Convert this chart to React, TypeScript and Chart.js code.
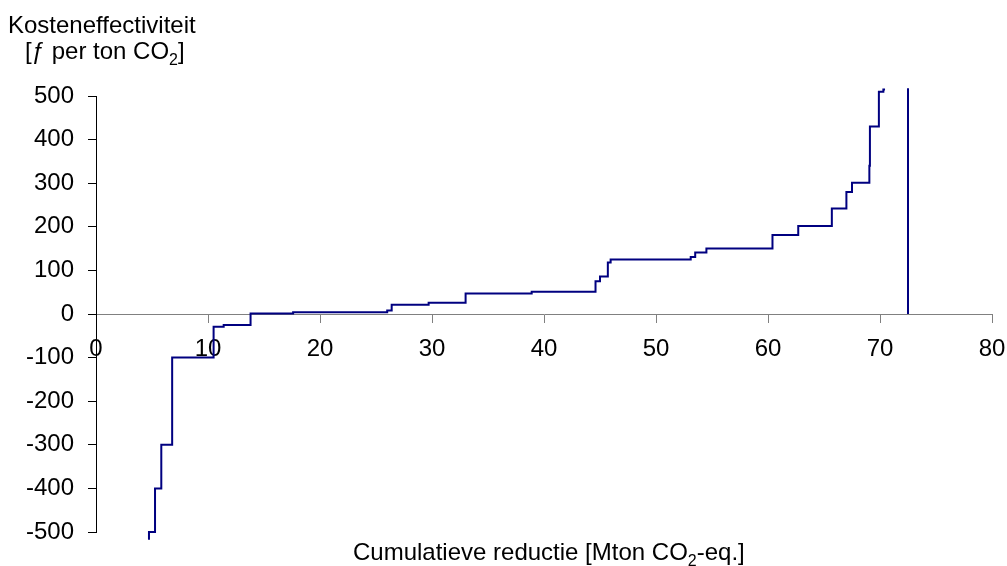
import React, { useEffect, useRef } from 'react';
import { Chart, registerables } from 'chart.js';

Chart.register(...registerables);

const FAMILY = '"Liberation Sans", Arial, Helvetica, sans-serif';

// Cost curve: each point = start of a measure (cumulative reduction, Mton CO2-eq.) and its cost (f per ton CO2)
const stepX = [4.73, 4.73, 5.27, 5.83, 6.8, 10.5, 11.4, 13.8, 17.6, 26.0, 26.4, 29.7, 33.0, 38.9, 44.6, 45.0, 45.7, 45.95, 53.1, 53.5, 54.5, 60.4, 62.7, 65.7, 67.0, 67.5, 69.05, 69.1, 69.9, 70.3, 70.45];
const stepCost = [-518, -500, -400, -300, -100, -29, -25, 1, 4, 8, 21, 26, 47, 51, 75, 86, 118, 125, 131, 141, 150, 181, 202, 242, 280, 301, 340, 430, 510, 515, 515];

// Vertical target line
const limitX = [72.5, 72.5];
const limitY = [0, 518];

// Axes
const xMin = 0;
const xMax = 80;
const xStep = 10;
const yMin = -500;
const yMax = 500;
const yStep = 100;

// Titles (text parts; true = subscript)
const yTitleLine1: [string, boolean][] = [['Kosteneffectiviteit', false]];
const yTitleLine2: [string, boolean][] = [['[ƒ per ton CO', false], ['2', true], [']', false]];
const xTitle: [string, boolean][] = [['Cumulatieve reductie [Mton CO', false], ['2', true], ['-eq.]', false]];

function drawParts(ctx: CanvasRenderingContext2D, parts: [string, boolean][], x: number, y: number, size: number) {
  let cx = x;
  for (const [t, sub] of parts) {
    const s = sub ? Math.round(size * 0.65) : size;
    ctx.font = `${s}px ${FAMILY}`;
    ctx.fillText(t, cx, sub ? y + size * 0.25 : y);
    cx += ctx.measureText(t).width;
  }
}

const titlePlugin = {
  id: 'titles',
  afterDraw(chart: any) {
    const ctx: CanvasRenderingContext2D = chart.ctx;
    ctx.save();
    ctx.fillStyle = '#000';
    ctx.textAlign = 'left';
    ctx.textBaseline = 'alphabetic';
    drawParts(ctx, yTitleLine1, 8, 33, 24);
    drawParts(ctx, yTitleLine2, 25, 59, 24);
    drawParts(ctx, xTitle, 353, 560, 24);
    ctx.restore();
  },
};

export default function App() {
  const ref = useRef<HTMLCanvasElement | null>(null);

  useEffect(() => {
    document.body.style.margin = '0';
    const canvas = ref.current;
    if (!canvas) return;
    const chart = new Chart(canvas, {
      type: 'line',
      data: {
        datasets: [
          {
            data: stepX.map((x, i) => ({ x, y: stepCost[i] })),
            borderColor: '#000080',
            borderWidth: 2,
            pointRadius: 0,
            stepped: 'before',
            fill: false,
            clip: false as any,
          },
          {
            data: limitX.map((x, i) => ({ x, y: limitY[i] })),
            borderColor: '#000080',
            borderWidth: 2,
            pointRadius: 0,
            fill: false,
            clip: false as any,
          },
        ],
      },
      options: {
        animation: false,
        responsive: false,
        devicePixelRatio: 1,
        layout: { padding: { left: 0, top: 96, right: 15, bottom: 34 } },
        plugins: {
          legend: { display: false },
          tooltip: { enabled: false },
          title: { display: false },
        },
        scales: {
          x: {
            type: 'linear',
            min: xMin,
            max: xMax,
            position: { y: 0 } as any,
            ticks: {
              stepSize: xStep,
              color: '#000',
              font: { family: FAMILY, size: 24 },
              padding: 13,
              maxRotation: 0,
              autoSkip: false,
              callback: (v: any) => String(v),
            },
            grid: { drawOnChartArea: false, drawTicks: true, tickLength: 8, color: '#808080', lineWidth: 1 },
            border: { display: true, color: '#808080', width: 1 },
            afterFit: (s: any) => {
              s.height = 0;
              s.paddingLeft = 0;
              s.paddingRight = 0;
              s.paddingTop = 0;
              s.paddingBottom = 0;
            },
          },
          y: {
            type: 'linear',
            min: yMin,
            max: yMax,
            ticks: {
              stepSize: yStep,
              color: '#000',
              font: { family: FAMILY, size: 24 },
              padding: 14,
              callback: (v: any) => String(v),
            },
            grid: { drawOnChartArea: false, drawTicks: true, tickLength: 8, color: '#000', lineWidth: 1 },
            border: { display: true, color: '#000', width: 1 },
            afterFit: (s: any) => {
              s.width = 96;
            },
          },
        },
      },
      plugins: [titlePlugin],
    });
    return () => chart.destroy();
  }, []);

  return (
    <div style={{ width: 1007, height: 566, position: 'relative', background: '#fff' }}>
      <canvas ref={ref} width={1007} height={566} style={{ width: 1007, height: 566, display: 'block' }} />
    </div>
  );
}
